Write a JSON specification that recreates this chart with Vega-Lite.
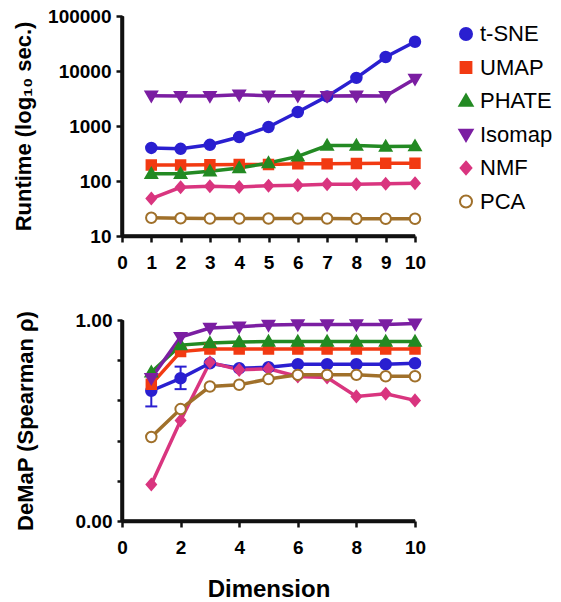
{
  "$schema": "https://vega.github.io/schema/vega-lite/v6.json",
  "padding": {"left": 12, "top": 7, "right": 0, "bottom": 5},
  "background": "white",
  "config": {
    "font": "Liberation Sans",
    "view": {"stroke": null},
    "axis": {
      "domain": true, "domainColor": "#111111", "domainWidth": 3.5,
      "ticks": true, "tickColor": "#111111", "tickWidth": 2.5, "tickSize": 6,
      "labelFont": "Liberation Sans", "labelFontWeight": "bold", "labelFontSize": 19, "labelColor": "black",
      "labelPadding": 5, "labelOverlap": false, "labelFlush": false,
      "titleFont": "Liberation Sans", "titleFontSize": 22, "titleFontWeight": "bold", "titleColor": "black",
      "grid": false
    },
    "legend": {
      "orient": "none", "legendX": 333, "legendY": 7,
      "labelFont": "Liberation Sans", "labelFontSize": 22, "labelColor": "black",
      "symbolSize": 144, "symbolStrokeWidth": 2, "rowPadding": 11.5, "labelOffset": 3
    }
  },
  "datasets": {
    "frame": [{}],
    "d": [
      {"method": "t-SNE", "dim": 1, "runtime": 400, "demap": 0.648, "lo": 0.57, "hi": 0.724},
      {"method": "t-SNE", "dim": 2, "runtime": 385, "demap": 0.71, "lo": 0.656, "hi": 0.768},
      {"method": "t-SNE", "dim": 3, "runtime": 455, "demap": 0.785},
      {"method": "t-SNE", "dim": 4, "runtime": 630, "demap": 0.76},
      {"method": "t-SNE", "dim": 5, "runtime": 960, "demap": 0.765},
      {"method": "t-SNE", "dim": 6, "runtime": 1800, "demap": 0.78},
      {"method": "t-SNE", "dim": 7, "runtime": 3450, "demap": 0.78},
      {"method": "t-SNE", "dim": 8, "runtime": 7500, "demap": 0.78},
      {"method": "t-SNE", "dim": 9, "runtime": 18000, "demap": 0.78},
      {"method": "t-SNE", "dim": 10, "runtime": 34000, "demap": 0.785},
      {"method": "UMAP", "dim": 1, "runtime": 195, "demap": 0.68},
      {"method": "UMAP", "dim": 2, "runtime": 195, "demap": 0.843},
      {"method": "UMAP", "dim": 3, "runtime": 198, "demap": 0.856},
      {"method": "UMAP", "dim": 4, "runtime": 200, "demap": 0.856},
      {"method": "UMAP", "dim": 5, "runtime": 200, "demap": 0.856},
      {"method": "UMAP", "dim": 6, "runtime": 205, "demap": 0.856},
      {"method": "UMAP", "dim": 7, "runtime": 205, "demap": 0.856},
      {"method": "UMAP", "dim": 8, "runtime": 208, "demap": 0.856},
      {"method": "UMAP", "dim": 9, "runtime": 210, "demap": 0.856},
      {"method": "UMAP", "dim": 10, "runtime": 210, "demap": 0.856},
      {"method": "PHATE", "dim": 1, "runtime": 135, "demap": 0.74},
      {"method": "PHATE", "dim": 2, "runtime": 135, "demap": 0.875},
      {"method": "PHATE", "dim": 3, "runtime": 150, "demap": 0.885},
      {"method": "PHATE", "dim": 4, "runtime": 172, "demap": 0.89},
      {"method": "PHATE", "dim": 5, "runtime": 212, "demap": 0.893},
      {"method": "PHATE", "dim": 6, "runtime": 280, "demap": 0.893},
      {"method": "PHATE", "dim": 7, "runtime": 440, "demap": 0.893},
      {"method": "PHATE", "dim": 8, "runtime": 440, "demap": 0.893},
      {"method": "PHATE", "dim": 9, "runtime": 425, "demap": 0.893},
      {"method": "PHATE", "dim": 10, "runtime": 430, "demap": 0.893},
      {"method": "Isomap", "dim": 1, "runtime": 3550, "demap": 0.71},
      {"method": "Isomap", "dim": 2, "runtime": 3500, "demap": 0.915},
      {"method": "Isomap", "dim": 3, "runtime": 3500, "demap": 0.96},
      {"method": "Isomap", "dim": 4, "runtime": 3700, "demap": 0.967},
      {"method": "Isomap", "dim": 5, "runtime": 3550, "demap": 0.975},
      {"method": "Isomap", "dim": 6, "runtime": 3550, "demap": 0.978},
      {"method": "Isomap", "dim": 7, "runtime": 3500, "demap": 0.978},
      {"method": "Isomap", "dim": 8, "runtime": 3550, "demap": 0.978},
      {"method": "Isomap", "dim": 9, "runtime": 3500, "demap": 0.978},
      {"method": "Isomap", "dim": 10, "runtime": 7200, "demap": 0.982},
      {"method": "NMF", "dim": 1, "runtime": 48, "demap": 0.182},
      {"method": "NMF", "dim": 2, "runtime": 77, "demap": 0.5},
      {"method": "NMF", "dim": 3, "runtime": 80, "demap": 0.79},
      {"method": "NMF", "dim": 4, "runtime": 78, "demap": 0.752},
      {"method": "NMF", "dim": 5, "runtime": 82, "demap": 0.757},
      {"method": "NMF", "dim": 6, "runtime": 84, "demap": 0.719},
      {"method": "NMF", "dim": 7, "runtime": 87, "demap": 0.714},
      {"method": "NMF", "dim": 8, "runtime": 87, "demap": 0.62},
      {"method": "NMF", "dim": 9, "runtime": 89, "demap": 0.633},
      {"method": "NMF", "dim": 10, "runtime": 91, "demap": 0.6},
      {"method": "PCA", "dim": 1, "runtime": 21.5, "demap": 0.418},
      {"method": "PCA", "dim": 2, "runtime": 21, "demap": 0.557},
      {"method": "PCA", "dim": 3, "runtime": 20.8, "demap": 0.669},
      {"method": "PCA", "dim": 4, "runtime": 20.8, "demap": 0.678},
      {"method": "PCA", "dim": 5, "runtime": 20.8, "demap": 0.706},
      {"method": "PCA", "dim": 6, "runtime": 20.8, "demap": 0.727},
      {"method": "PCA", "dim": 7, "runtime": 20.8, "demap": 0.727},
      {"method": "PCA", "dim": 8, "runtime": 20.6, "demap": 0.727},
      {"method": "PCA", "dim": 9, "runtime": 20.6, "demap": 0.72},
      {"method": "PCA", "dim": 10, "runtime": 20.6, "demap": 0.72}
    ]
  },
  "bounds": "flush",
  "spacing": 84,
  "resolve": {"scale": {"x": "independent", "y": "independent"}},
  "vconcat": [
    {
      "width": 293, "height": 220,
      "layer": [
        {
          "data": {"name": "frame"},
          "mark": {"type": "rule", "color": "#111111", "strokeWidth": 3.5},
          "encoding": {
            "x": {"datum": 0, "type": "quantitative", "axis": {"values": [0,1,2,3,4,5,6,7,8,9,10], "format": "d", "title": null, "labelPadding": 11}},
            "x2": {"datum": 10},
            "y": {"datum": 10, "type": "quantitative", "axis": {"values": [10, 100, 1000, 10000, 100000], "format": "d", "title": "Runtime  (log₁₀ sec.)", "titlePadding": 12}}
          }
        },
        {
          "data": {"name": "frame"},
          "mark": {"type": "rule", "color": "#111111", "strokeWidth": 3.5},
          "encoding": {
            "x": {"datum": 0, "type": "quantitative", "axis": {"values": [0,1,2,3,4,5,6,7,8,9,10], "format": "d", "title": null, "labelPadding": 11}},
            "y": {"datum": 10, "type": "quantitative", "axis": {"values": [10, 100, 1000, 10000, 100000], "format": "d", "title": "Runtime  (log₁₀ sec.)", "titlePadding": 12}},
            "y2": {"datum": 100000}
          }
        },
        {
          "data": {"name": "d"},
          "mark": {"type": "line", "strokeWidth": 3.5},
          "encoding": {
            "x": {"field": "dim", "type": "quantitative", "scale": {"domain": [0, 10], "nice": false}, "axis": {"values": [0,1,2,3,4,5,6,7,8,9,10], "format": "d", "title": null, "labelPadding": 11}},
            "y": {"field": "runtime", "type": "quantitative", "scale": {"type": "log", "domain": [10, 100000], "nice": false}, "axis": {"values": [10, 100, 1000, 10000, 100000], "format": "d", "title": "Runtime  (log₁₀ sec.)", "titlePadding": 12}},
            "stroke": {"field": "method", "type": "nominal",
              "scale": {"domain": ["t-SNE", "UMAP", "PHATE", "Isomap", "NMF", "PCA"], "range": ["#2a1fd0", "#f23a12", "#238a23", "#7b1ea2", "#d9357f", "#a0702a"]},
              "legend": {"title": null}}
          }
        },
        {
          "data": {"name": "d"},
          "mark": {"type": "point", "size": 110, "strokeWidth": 2, "opacity": 1},
          "encoding": {
            "x": {"field": "dim", "type": "quantitative", "axis": {"values": [0,1,2,3,4,5,6,7,8,9,10], "format": "d", "title": null, "labelPadding": 11}},
            "y": {"field": "runtime", "type": "quantitative", "axis": {"values": [10, 100, 1000, 10000, 100000], "format": "d", "title": "Runtime  (log₁₀ sec.)", "titlePadding": 12}},
            "stroke": {"field": "method", "type": "nominal", "legend": {"title": null}},
            "fill": {"field": "method", "type": "nominal",
              "scale": {"domain": ["t-SNE", "UMAP", "PHATE", "Isomap", "NMF", "PCA"], "range": ["#2a1fd0", "#f23a12", "#238a23", "#7b1ea2", "#d9357f", "#ffffff"]},
              "legend": {"title": null}},
            "shape": {"field": "method", "type": "nominal",
              "scale": {"domain": ["t-SNE", "UMAP", "PHATE", "Isomap", "NMF", "PCA"], "range": [
                "M1,0A1,1,0,1,1,-1,0A1,1,0,1,1,1,0Z",
                "M-0.9,-0.9H0.9V0.9H-0.9Z",
                "M0,-1.1L1.1,0.8H-1.1Z",
                "M-1.1,-0.8H1.1L0,1.1Z",
                "M0,-1.05L0.9,0L0,1.05L-0.9,0Z",
                "M1,0A1,1,0,1,1,-1,0A1,1,0,1,1,1,0Z"]},
              "legend": {"title": null}}
          }
        }
      ]
    },
    {
      "width": 293, "height": 201,
      "layer": [
        {
          "data": {"name": "frame"},
          "mark": {"type": "rule", "color": "#111111", "strokeWidth": 3.5},
          "encoding": {
            "x": {"datum": 0, "type": "quantitative", "axis": {"values": [0,1,2,3,4,5,6,7,8,9,10], "format": "d", "title": "Dimension", "titleFontSize": 24, "titlePadding": 20, "labelPadding": 11}},
            "x2": {"datum": 10},
            "y": {"datum": 0, "type": "quantitative", "axis": {"values": [0,0.05,0.1,0.15,0.2,0.25,0.3,0.35,0.4,0.45,0.5,0.55,0.6,0.65,0.7,0.75,0.8,0.85,0.9,0.95,1], "labelExpr": "abs(datum.value*4 - round(datum.value*4)) < 0.001 ? format(datum.value, '.2f') : ''", "tickSize": 5, "title": "DeMaP (Spearman ρ)", "titlePadding": 38}}
          }
        },
        {
          "data": {"name": "frame"},
          "mark": {"type": "rule", "color": "#111111", "strokeWidth": 3.5},
          "encoding": {
            "x": {"datum": 0, "type": "quantitative", "axis": {"values": [0,1,2,3,4,5,6,7,8,9,10], "format": "d", "title": "Dimension", "titleFontSize": 24, "titlePadding": 20, "labelPadding": 11}},
            "y": {"datum": 0, "type": "quantitative", "axis": {"values": [0,0.05,0.1,0.15,0.2,0.25,0.3,0.35,0.4,0.45,0.5,0.55,0.6,0.65,0.7,0.75,0.8,0.85,0.9,0.95,1], "labelExpr": "abs(datum.value*4 - round(datum.value*4)) < 0.001 ? format(datum.value, '.2f') : ''", "tickSize": 5, "title": "DeMaP (Spearman ρ)", "titlePadding": 38}},
            "y2": {"datum": 1}
          }
        },
        {
          "data": {"name": "d"},
          "mark": {"type": "line", "strokeWidth": 3.5},
          "encoding": {
            "x": {"field": "dim", "type": "quantitative", "scale": {"domain": [0, 10], "nice": false}, "axis": {"values": [0,1,2,3,4,5,6,7,8,9,10], "format": "d", "title": "Dimension", "titleFontSize": 24, "titlePadding": 20, "labelPadding": 11}},
            "y": {"field": "demap", "type": "quantitative", "scale": {"domain": [0, 1], "nice": false}, "axis": {"values": [0,0.05,0.1,0.15,0.2,0.25,0.3,0.35,0.4,0.45,0.5,0.55,0.6,0.65,0.7,0.75,0.8,0.85,0.9,0.95,1], "labelExpr": "abs(datum.value*4 - round(datum.value*4)) < 0.001 ? format(datum.value, '.2f') : ''", "tickSize": 5, "title": "DeMaP (Spearman ρ)", "titlePadding": 38}},
            "stroke": {"field": "method", "type": "nominal", "legend": {"title": null}}
          }
        },
        {
          "data": {"name": "d"},
          "transform": [{"filter": "isValid(datum.lo)"}],
          "mark": {"type": "rule", "strokeWidth": 2, "color": "#2a1fd0"},
          "encoding": {
            "x": {"field": "dim", "type": "quantitative", "axis": {"values": [0,1,2,3,4,5,6,7,8,9,10], "format": "d", "title": "Dimension", "titleFontSize": 24, "titlePadding": 20, "labelPadding": 11}},
            "y": {"field": "lo", "type": "quantitative", "axis": {"values": [0,0.05,0.1,0.15,0.2,0.25,0.3,0.35,0.4,0.45,0.5,0.55,0.6,0.65,0.7,0.75,0.8,0.85,0.9,0.95,1], "labelExpr": "abs(datum.value*4 - round(datum.value*4)) < 0.001 ? format(datum.value, '.2f') : ''", "tickSize": 5, "title": "DeMaP (Spearman ρ)", "titlePadding": 38}},
            "y2": {"field": "hi"}
          }
        },
        {
          "data": {"name": "d"},
          "transform": [{"filter": "isValid(datum.lo)"}],
          "mark": {"type": "tick", "orient": "horizontal", "size": 12, "thickness": 2, "color": "#2a1fd0", "opacity": 1},
          "encoding": {
            "x": {"field": "dim", "type": "quantitative"},
            "y": {"field": "lo", "type": "quantitative"}
          }
        },
        {
          "data": {"name": "d"},
          "transform": [{"filter": "isValid(datum.lo)"}],
          "mark": {"type": "tick", "orient": "horizontal", "size": 12, "thickness": 2, "color": "#2a1fd0", "opacity": 1},
          "encoding": {
            "x": {"field": "dim", "type": "quantitative"},
            "y": {"field": "hi", "type": "quantitative"}
          }
        },
        {
          "data": {"name": "d"},
          "mark": {"type": "point", "size": 110, "strokeWidth": 2, "opacity": 1},
          "encoding": {
            "x": {"field": "dim", "type": "quantitative", "axis": {"values": [0,1,2,3,4,5,6,7,8,9,10], "format": "d", "title": "Dimension", "titleFontSize": 24, "titlePadding": 20, "labelPadding": 11}},
            "y": {"field": "demap", "type": "quantitative", "axis": {"values": [0,0.05,0.1,0.15,0.2,0.25,0.3,0.35,0.4,0.45,0.5,0.55,0.6,0.65,0.7,0.75,0.8,0.85,0.9,0.95,1], "labelExpr": "abs(datum.value*4 - round(datum.value*4)) < 0.001 ? format(datum.value, '.2f') : ''", "tickSize": 5, "title": "DeMaP (Spearman ρ)", "titlePadding": 38}},
            "stroke": {"field": "method", "type": "nominal", "legend": {"title": null}},
            "fill": {"field": "method", "type": "nominal", "legend": {"title": null}},
            "shape": {"field": "method", "type": "nominal", "legend": {"title": null}}
          }
        }
      ]
    }
  ]
}
